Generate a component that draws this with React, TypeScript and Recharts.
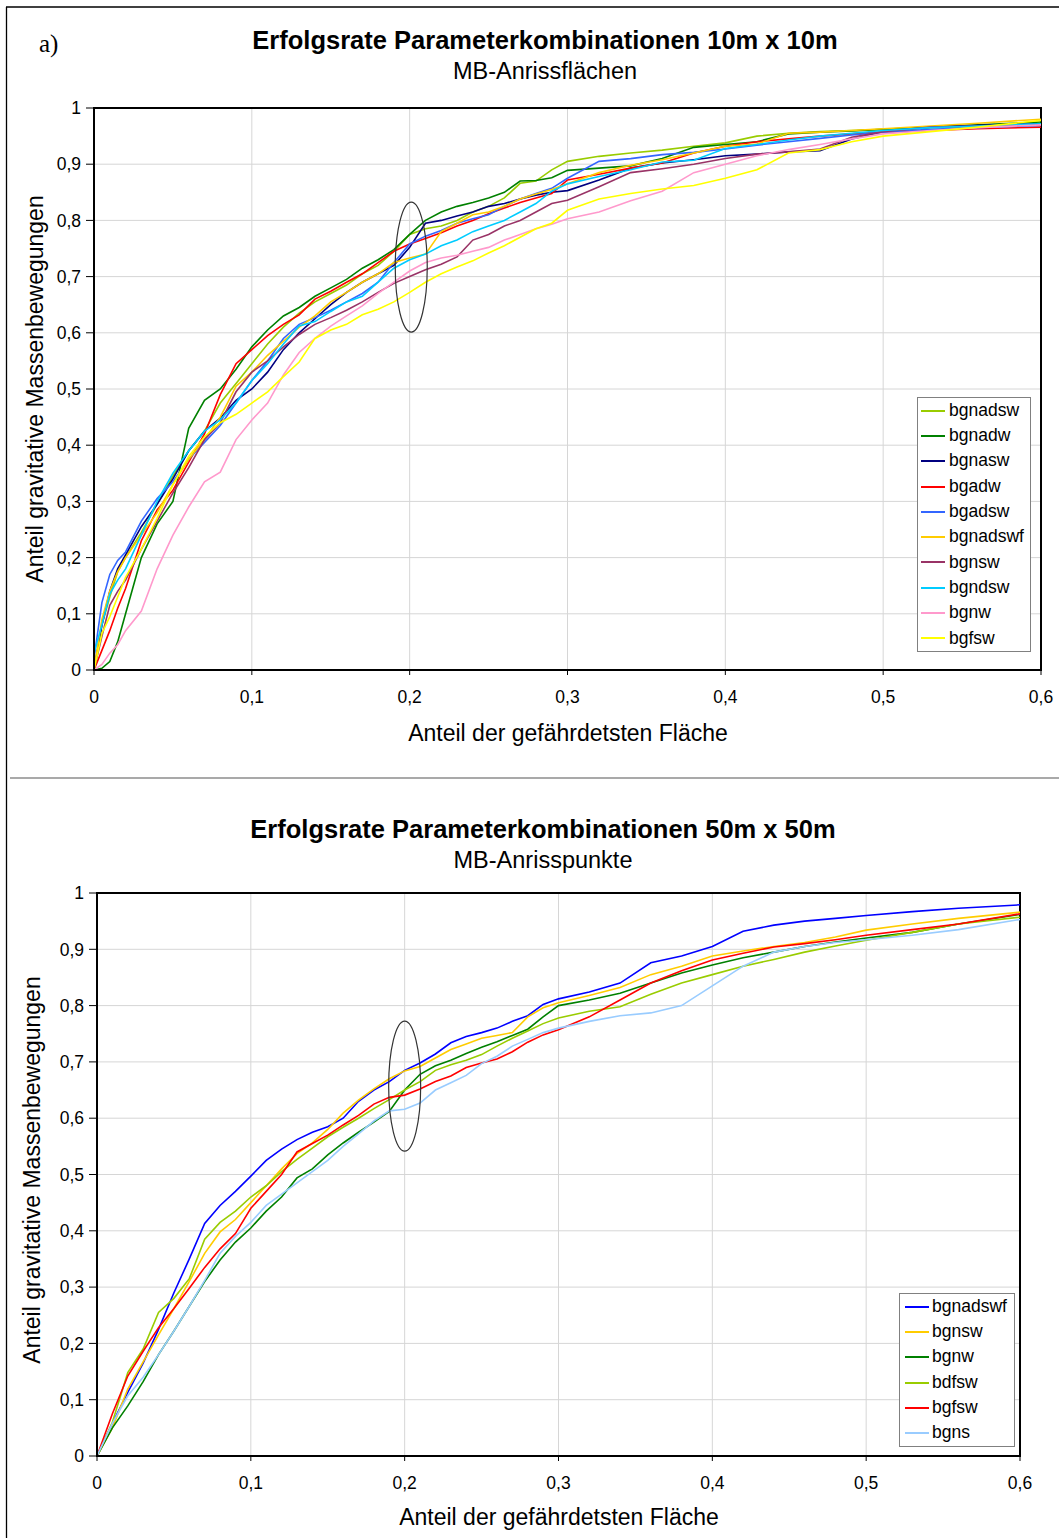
import React from 'react';
import {
  LineChart, Line, XAxis, YAxis, CartesianGrid, Legend, ReferenceArea, ReferenceDot,
} from 'recharts';

// ---------- shared ticks ----------
const X_TICKS = [0, 0.1, 0.2, 0.3, 0.4, 0.5, 0.6];
const Y_TICKS = [0, 0.1, 0.2, 0.3, 0.4, 0.5, 0.6, 0.7, 0.8, 0.9, 1];

// ---------- chart a) 10m x 10m, MB-Anrissflächen ----------
const X_10 = [0, 0.005, 0.01, 0.015, 0.02, 0.03, 0.04, 0.05, 0.06, 0.07, 0.08, 0.09, 0.1, 0.11, 0.12, 0.13, 0.14, 0.15, 0.16, 0.17, 0.18, 0.19, 0.2, 0.21, 0.22, 0.23, 0.24, 0.25, 0.26, 0.27, 0.28, 0.29, 0.3, 0.32, 0.34, 0.36, 0.38, 0.4, 0.42, 0.44, 0.46, 0.48, 0.5, 0.53, 0.56, 0.6];
const BGNADSW_10 = [0, 0.08, 0.13, 0.175, 0.2, 0.245, 0.295, 0.345, 0.39, 0.425, 0.475, 0.51, 0.545, 0.58, 0.61, 0.635, 0.655, 0.67, 0.685, 0.705, 0.72, 0.745, 0.775, 0.785, 0.79, 0.8, 0.815, 0.825, 0.84, 0.866, 0.87, 0.89, 0.905, 0.914, 0.92, 0.925, 0.932, 0.938, 0.95, 0.955, 0.958, 0.96, 0.962, 0.965, 0.967, 0.97];
const BGNADW_10 = [0, 0.003, 0.015, 0.05, 0.1, 0.2, 0.26, 0.3, 0.43, 0.48, 0.5, 0.535, 0.575, 0.605, 0.63, 0.645, 0.665, 0.68, 0.695, 0.715, 0.73, 0.748, 0.775, 0.8, 0.815, 0.825, 0.832, 0.84, 0.85, 0.87, 0.871, 0.876, 0.889, 0.893, 0.897, 0.91, 0.93, 0.935, 0.94, 0.954, 0.957, 0.959, 0.962, 0.966, 0.97, 0.975];
const BGNASW_10 = [0, 0.08, 0.14, 0.18, 0.205, 0.255, 0.295, 0.34, 0.39, 0.425, 0.448, 0.48, 0.5, 0.53, 0.57, 0.6, 0.625, 0.65, 0.672, 0.69, 0.705, 0.72, 0.752, 0.795, 0.8, 0.808, 0.815, 0.825, 0.83, 0.838, 0.845, 0.85, 0.853, 0.872, 0.893, 0.902, 0.908, 0.915, 0.918, 0.922, 0.924, 0.945, 0.958, 0.966, 0.969, 0.972];
const BGADW_10 = [0, 0.035, 0.07, 0.11, 0.145, 0.23, 0.285, 0.32, 0.37, 0.42, 0.49, 0.545, 0.57, 0.595, 0.615, 0.632, 0.66, 0.674, 0.69, 0.705, 0.725, 0.745, 0.758, 0.768, 0.778, 0.79, 0.8, 0.812, 0.822, 0.832, 0.84, 0.848, 0.872, 0.882, 0.893, 0.902, 0.92, 0.932, 0.94, 0.945, 0.95, 0.954, 0.957, 0.96, 0.963, 0.966];
const BGADSW_10 = [0.02, 0.12, 0.17, 0.195, 0.21, 0.265, 0.305, 0.335, 0.375, 0.405, 0.435, 0.475, 0.515, 0.55, 0.59, 0.615, 0.627, 0.64, 0.655, 0.67, 0.69, 0.725, 0.758, 0.772, 0.782, 0.795, 0.803, 0.81, 0.825, 0.838, 0.848, 0.857, 0.875, 0.905, 0.91, 0.917, 0.921, 0.927, 0.934, 0.94, 0.946, 0.952, 0.957, 0.962, 0.965, 0.969];
const BGNADSWF_10 = [0, 0.09, 0.14, 0.175, 0.2, 0.24, 0.28, 0.33, 0.375, 0.41, 0.45, 0.505, 0.53, 0.56, 0.585, 0.61, 0.63, 0.655, 0.672, 0.69, 0.705, 0.725, 0.733, 0.74, 0.78, 0.795, 0.81, 0.815, 0.825, 0.838, 0.847, 0.855, 0.865, 0.885, 0.898, 0.908, 0.92, 0.932, 0.936, 0.955, 0.957, 0.96, 0.963, 0.968, 0.973, 0.98];
const BGNSW_10 = [0, 0.06, 0.115, 0.14, 0.16, 0.215, 0.265, 0.315, 0.36, 0.41, 0.44, 0.495, 0.53, 0.55, 0.575, 0.597, 0.615, 0.627, 0.64, 0.655, 0.672, 0.688, 0.7, 0.712, 0.722, 0.735, 0.765, 0.775, 0.79, 0.8, 0.815, 0.83, 0.836, 0.86, 0.885, 0.892, 0.9, 0.91, 0.918, 0.922, 0.927, 0.948, 0.958, 0.966, 0.968, 0.97];
const BGNDSW_10 = [0.03, 0.08, 0.135, 0.16, 0.18, 0.24, 0.3, 0.35, 0.39, 0.425, 0.445, 0.475, 0.515, 0.545, 0.58, 0.612, 0.62, 0.638, 0.655, 0.665, 0.69, 0.715, 0.73, 0.74, 0.755, 0.765, 0.78, 0.79, 0.8, 0.815, 0.83, 0.852, 0.865, 0.878, 0.89, 0.904, 0.907, 0.928, 0.935, 0.943, 0.95, 0.955, 0.96, 0.965, 0.968, 0.972];
const BGNW_10 = [0, 0.01, 0.03, 0.045, 0.07, 0.105, 0.18, 0.24, 0.29, 0.335, 0.352, 0.41, 0.445, 0.475, 0.525, 0.565, 0.59, 0.612, 0.63, 0.648, 0.67, 0.69, 0.71, 0.725, 0.733, 0.738, 0.745, 0.752, 0.765, 0.775, 0.785, 0.793, 0.803, 0.815, 0.835, 0.852, 0.885, 0.9, 0.915, 0.926, 0.935, 0.945, 0.954, 0.96, 0.965, 0.97];
const BGFSW_10 = [0, 0.065, 0.095, 0.13, 0.165, 0.215, 0.27, 0.33, 0.38, 0.415, 0.44, 0.455, 0.475, 0.495, 0.522, 0.548, 0.59, 0.605, 0.615, 0.632, 0.642, 0.655, 0.672, 0.69, 0.705, 0.717, 0.728, 0.742, 0.755, 0.77, 0.785, 0.795, 0.818, 0.838, 0.848, 0.856, 0.862, 0.875, 0.89, 0.92, 0.926, 0.94, 0.95, 0.958, 0.966, 0.978];

// ---------- chart b) 50m x 50m, MB-Anrisspunkte ----------
const X_50 = [0, 0.01, 0.02, 0.03, 0.04, 0.05, 0.06, 0.07, 0.08, 0.09, 0.1, 0.11, 0.12, 0.13, 0.14, 0.15, 0.16, 0.17, 0.18, 0.19, 0.2, 0.21, 0.22, 0.23, 0.24, 0.25, 0.26, 0.27, 0.28, 0.29, 0.3, 0.32, 0.34, 0.36, 0.38, 0.4, 0.42, 0.44, 0.46, 0.48, 0.5, 0.53, 0.56, 0.6];
const BGNADSWF_50 = [0, 0.058, 0.113, 0.165, 0.225, 0.29, 0.35, 0.413, 0.445, 0.47, 0.497, 0.525, 0.545, 0.562, 0.575, 0.585, 0.6, 0.63, 0.65, 0.665, 0.685, 0.698, 0.714, 0.734, 0.745, 0.752, 0.76, 0.772, 0.782, 0.802, 0.812, 0.824, 0.84, 0.876, 0.888, 0.905, 0.932, 0.943, 0.95, 0.955, 0.96, 0.967, 0.973, 0.979];
const BGNSW_50 = [0, 0.05, 0.119, 0.167, 0.215, 0.262, 0.31, 0.36, 0.398, 0.42, 0.45, 0.48, 0.51, 0.537, 0.556, 0.58, 0.609, 0.632, 0.652, 0.67, 0.684, 0.692, 0.707, 0.722, 0.732, 0.742, 0.747, 0.752, 0.78, 0.796, 0.805, 0.818, 0.832, 0.855, 0.87, 0.888, 0.897, 0.905, 0.912, 0.922, 0.934, 0.945, 0.955, 0.966];
const BGNW_50 = [0, 0.05, 0.089, 0.132, 0.18, 0.222, 0.266, 0.31, 0.348, 0.38, 0.405, 0.435, 0.46, 0.494, 0.51, 0.535, 0.556, 0.575, 0.593, 0.612, 0.65, 0.678, 0.693, 0.703, 0.715, 0.726, 0.736, 0.747, 0.758, 0.78, 0.8, 0.81, 0.822, 0.84, 0.858, 0.872, 0.885, 0.895, 0.905, 0.913, 0.92, 0.93, 0.945, 0.962];
const BDFSW_50 = [0, 0.06, 0.148, 0.19, 0.255, 0.28, 0.315, 0.385, 0.415, 0.435, 0.46, 0.48, 0.505, 0.527, 0.547, 0.567, 0.584, 0.6, 0.617, 0.633, 0.65, 0.665, 0.685, 0.695, 0.703, 0.713, 0.728, 0.742, 0.755, 0.768, 0.778, 0.79, 0.798, 0.82, 0.84, 0.855, 0.87, 0.882, 0.895, 0.906, 0.916, 0.93, 0.945, 0.957];
const BGFSW_50 = [0, 0.075, 0.142, 0.186, 0.228, 0.262, 0.298, 0.335, 0.368, 0.395, 0.44, 0.47, 0.5, 0.54, 0.555, 0.57, 0.588, 0.605, 0.625, 0.637, 0.641, 0.652, 0.665, 0.675, 0.69, 0.698, 0.705, 0.718, 0.735, 0.748, 0.757, 0.78, 0.81, 0.84, 0.862, 0.881, 0.893, 0.904, 0.91, 0.917, 0.925, 0.935, 0.945, 0.963];
const BGNS_50 = [0, 0.058, 0.107, 0.14, 0.18, 0.222, 0.266, 0.312, 0.36, 0.39, 0.415, 0.445, 0.465, 0.485, 0.505, 0.525, 0.55, 0.572, 0.595, 0.613, 0.616, 0.627, 0.65, 0.663, 0.676, 0.697, 0.71, 0.728, 0.74, 0.752, 0.76, 0.772, 0.782, 0.787, 0.8, 0.835, 0.87, 0.895, 0.905, 0.912, 0.917, 0.925, 0.935, 0.953];

type Series = { key: string; color: string; values: number[] };

const SERIES_10: Series[] = [
  { key: 'bgnadsw', color: '#99cc00', values: BGNADSW_10 },
  { key: 'bgnadw', color: '#008000', values: BGNADW_10 },
  { key: 'bgnasw', color: '#000080', values: BGNASW_10 },
  { key: 'bgadw', color: '#ff0000', values: BGADW_10 },
  { key: 'bgadsw', color: '#3366ff', values: BGADSW_10 },
  { key: 'bgnadswf', color: '#ffcc00', values: BGNADSWF_10 },
  { key: 'bgnsw', color: '#993366', values: BGNSW_10 },
  { key: 'bgndsw', color: '#00ccff', values: BGNDSW_10 },
  { key: 'bgnw', color: '#ff99cc', values: BGNW_10 },
  { key: 'bgfsw', color: '#ffff00', values: BGFSW_10 },
];

const SERIES_50: Series[] = [
  { key: 'bgnadswf', color: '#0000ff', values: BGNADSWF_50 },
  { key: 'bgnsw', color: '#ffcc00', values: BGNSW_50 },
  { key: 'bgnw', color: '#008000', values: BGNW_50 },
  { key: 'bdfsw', color: '#99cc00', values: BDFSW_50 },
  { key: 'bgfsw', color: '#ff0000', values: BGFSW_50 },
  { key: 'bgns', color: '#99ccff', values: BGNS_50 },
];

const buildData = (xs: number[], series: Series[]) =>
  xs.map((x, i) => {
    const row: Record<string, number> = { x };
    series.forEach((s) => { row[s.key] = s.values[i]; });
    return row;
  });

const DATA_10 = buildData(X_10, SERIES_10);
const DATA_50 = buildData(X_50, SERIES_50);

const FONT = '"Liberation Sans", Arial, Helvetica, sans-serif';

const fmt = (v: number) => (v === 0 ? '0' : v === 1 ? '1' : v.toFixed(1).replace('.', ','));

const ellipseShape = (props: any) => (
  <ellipse cx={props.cx} cy={props.cy} rx={16} ry={65} fill="none" stroke="#333" strokeWidth={1.2} />
);

// Legend entries keep the series order (Excel style), not alphabetical.
const makeLegend = (series: Series[], w: number, row: number, padL: number, gap: number) => () => (
  <div
    style={{
      border: '1px solid #808080',
      background: '#fff',
      width: w,
      boxSizing: 'border-box',
      paddingLeft: padL,
      fontFamily: FONT,
      fontSize: 17.5,
      color: '#000',
    }}
  >
    {series.map((s) => (
      <div key={s.key} style={{ height: row, display: 'flex', alignItems: 'center' }}>
        <div style={{ width: 24, height: 2, background: s.color, marginRight: gap }} />
        <span style={{ lineHeight: 1 }}>{s.key}</span>
      </div>
    ))}
  </div>
);

type PanelProps = {
  data: Record<string, number>[];
  series: Series[];
  height: number;
  margin: { top: number; right: number; bottom: number; left: number };
  yAxisWidth: number;
  ellipseAt: { x: number; y: number };
  legend: { left: number; top: number; w: number; row: number; padL: number; gap: number };
};

const Panel = ({ data, series, height, margin, yAxisWidth, ellipseAt, legend }: PanelProps) => {
  const tickStyle = { fontSize: 17.5, fill: '#000', fontFamily: FONT };
  return (
    <LineChart width={1059} height={height} data={data} margin={margin}>
      <CartesianGrid stroke="#d6d6d6" strokeWidth={1} />
      <XAxis
        type="number"
        dataKey="x"
        domain={[0, 0.6]}
        ticks={X_TICKS}
        interval={0}
        tickFormatter={fmt}
        tick={tickStyle}
        tickSize={5}
        tickMargin={16}
        height={40}
        axisLine={{ stroke: '#000', strokeWidth: 2 }}
        tickLine={{ stroke: '#000' }}
        allowDataOverflow
      />
      <YAxis
        type="number"
        domain={[0, 1]}
        ticks={Y_TICKS}
        interval={0}
        tickFormatter={fmt}
        tick={tickStyle}
        tickSize={8}
        tickMargin={5}
        width={yAxisWidth}
        axisLine={{ stroke: '#000', strokeWidth: 2 }}
        tickLine={{ stroke: '#000' }}
        allowDataOverflow
      />
      {series.map((s) => (
        <Line
          key={s.key}
          type="linear"
          dataKey={s.key}
          name={s.key}
          stroke={s.color}
          strokeWidth={1.6}
          dot={false}
          activeDot={false}
          isAnimationActive={false}
        />
      ))}
      <ReferenceArea x1={0} x2={0.6} y1={0} y2={1} fill="none" stroke="#000" strokeWidth={2} ifOverflow="visible" />
      <ReferenceDot x={ellipseAt.x} y={ellipseAt.y} r={1} shape={ellipseShape} ifOverflow="visible" />
      <Legend
        layout="horizontal"
        verticalAlign="middle"
        align="center"
        wrapperStyle={{ left: legend.left, top: legend.top, width: legend.w }}
        content={makeLegend(series, legend.w, legend.row, legend.padL, legend.gap)}
      />
    </LineChart>
  );
};

export default function App() {
  return (
    <div
      style={{
        position: 'absolute',
        left: 0,
        top: 0,
        width: 1059,
        height: 1538,
        background: '#fff',
        overflow: 'hidden',
        fontFamily: FONT,
      }}
    >
      <div style={{ position: 'absolute', left: 0, top: 0 }}>
        <Panel
          data={DATA_10}
          series={SERIES_10}
          height={760}
          margin={{ top: 108, right: 18, bottom: 50, left: 0 }}
          yAxisWidth={94}
          ellipseAt={{ x: 0.201, y: 0.717 }}
          legend={{ left: 917, top: 397, w: 114, row: 25.3, padL: 3, gap: 4 }}
        />
      </div>
      <div style={{ position: 'absolute', left: 0, top: 790 }}>
        <Panel
          data={DATA_50}
          series={SERIES_50}
          height={748}
          margin={{ top: 103, right: 39, bottom: 42, left: 0 }}
          yAxisWidth={97}
          ellipseAt={{ x: 0.2, y: 0.657 }}
          legend={{ left: 899, top: 503, w: 116, row: 25.3, padL: 5, gap: 3 }}
        />
      </div>
      <svg
        width={1059}
        height={1538}
        style={{ position: 'absolute', left: 0, top: 0, pointerEvents: 'none' }}
      >
        <line x1={6} y1={7} x2={1059} y2={7} stroke="#000" strokeWidth={1.5} />
        <line x1={6.5} y1={7} x2={6.5} y2={1538} stroke="#000" strokeWidth={1.3} />
        <line x1={10} y1={778} x2={1059} y2={778} stroke="#8c8c8c" strokeWidth={1.5} />

        <text x={39} y={52} fontFamily='"Liberation Serif", "Times New Roman", serif' fontSize={25} fill="#000">a)</text>

        <text x={545} y={49} textAnchor="middle" fontFamily={FONT} fontSize={25.5} fontWeight="bold" fill="#000">
          Erfolgsrate Parameterkombinationen 10m x 10m
        </text>
        <text x={545} y={79} textAnchor="middle" fontFamily={FONT} fontSize={23.5} fill="#000">
          MB-Anrissflächen
        </text>
        <text transform="translate(43,389) rotate(-90)" textAnchor="middle" fontFamily={FONT} fontSize={23} fill="#000">
          Anteil gravitative Massenbewegungen
        </text>
        <text x={568} y={741} textAnchor="middle" fontFamily={FONT} fontSize={23} fill="#000">
          Anteil der gefährdetsten Fläche
        </text>

        <text x={543} y={838} textAnchor="middle" fontFamily={FONT} fontSize={25.5} fontWeight="bold" fill="#000">
          Erfolgsrate Parameterkombinationen 50m x 50m
        </text>
        <text x={543} y={868} textAnchor="middle" fontFamily={FONT} fontSize={23.5} fill="#000">
          MB-Anrisspunkte
        </text>
        <text transform="translate(40,1170) rotate(-90)" textAnchor="middle" fontFamily={FONT} fontSize={23} fill="#000">
          Anteil gravitative Massenbewegungen
        </text>
        <text x={559} y={1525} textAnchor="middle" fontFamily={FONT} fontSize={23} fill="#000">
          Anteil der gefährdetsten Fläche
        </text>
      </svg>
    </div>
  );
}
